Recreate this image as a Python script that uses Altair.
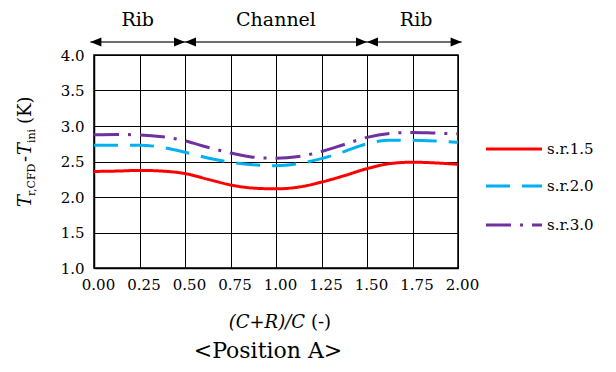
import altair as alt
import pandas as pd

# ---- data ----
x_vals = [0.0, 0.125, 0.25, 0.375, 0.5, 0.625, 0.75, 0.875, 1.0,
          1.125, 1.25, 1.375, 1.5, 1.625, 1.75, 1.875, 2.0]
sr15 = [2.36, 2.365, 2.375, 2.365, 2.33, 2.25, 2.17, 2.125, 2.115,
        2.14, 2.21, 2.30, 2.40, 2.47, 2.49, 2.48, 2.46]
sr20 = [2.73, 2.73, 2.73, 2.70, 2.63, 2.55, 2.49, 2.455, 2.44,
        2.47, 2.54, 2.64, 2.75, 2.80, 2.80, 2.79, 2.77]
sr30 = [2.875, 2.88, 2.875, 2.85, 2.79, 2.70, 2.62, 2.56, 2.545,
        2.57, 2.64, 2.74, 2.84, 2.895, 2.91, 2.90, 2.89]
series_names = ["s.r.1.5", "s.r.2.0", "s.r.3.0"]
x_ticks = [0, 0.25, 0.5, 0.75, 1.0, 1.25, 1.5, 1.75, 2.0]
y_ticks = [1.0, 1.5, 2.0, 2.5, 3.0, 3.5, 4.0]
region_labels = ["Rib", "Channel", "Rib"]
region_centers = [0.24, 1.0, 1.77]
region_starts = [-0.02, 0.5, 1.5]
region_ends = [0.5, 1.5, 2.02]

colors = ["#FF0000", "#00B0F0", "#7030A0"]
dashes = [[1, 0], [24, 12], [25, 9, 3, 9]]
FONT = "DejaVu Serif"

rows = []
for name, ys in zip(series_names, [sr15, sr20, sr30]):
    for xv, yv in zip(x_vals, ys):
        rows.append({"x": xv, "y": yv, "series": name})
df = pd.DataFrame(rows)

xscale = alt.Scale(domain=[0, 2], nice=False, zero=False)
yscale = alt.Scale(domain=[1, 4], nice=False, zero=False)

lines = alt.Chart(df).mark_line(strokeWidth=3, interpolate="monotone").encode(
    x=alt.X("x:Q", scale=xscale,
            axis=alt.Axis(values=x_ticks, format=".2f", title=None, grid=True,
                          labelOffset=4, labelPadding=9, labelOverlap=False,
                          labelFlush=False)),
    y=alt.Y("y:Q", scale=yscale,
            axis=alt.Axis(values=y_ticks, format=".1f", title=None, grid=True,
                          labelPadding=10, labelOverlap=False)),
    color=alt.Color("series:N",
                    scale=alt.Scale(domain=series_names, range=colors),
                    legend=None),
    strokeDash=alt.StrokeDash("series:N",
                              scale=alt.Scale(domain=series_names, range=dashes),
                              legend=None),
)

# legend (drawn as guide marks)
legend_rows_y = [94, 131, 170]
legend_layers = []
for name, col, dash, ly in zip(series_names, colors, dashes, legend_rows_y):
    legend_layers.append(
        alt.Chart(pd.DataFrame({"t": [name]})).mark_rule(
            color=col, strokeWidth=3, strokeDash=dash).encode(
            x=alt.value(392), x2=alt.value(448), y=alt.value(ly)))
    legend_layers.append(
        alt.Chart(pd.DataFrame({"t": [name]})).mark_text(
            font=FONT, fontSize=15, color="black", align="left",
            baseline="middle").encode(
            x=alt.value(453), y=alt.value(ly), text="t:N"))

# region arrows
seg_df = pd.DataFrame({"x": region_starts, "x2": region_ends})
arrow_lines = alt.Chart(seg_df).mark_rule(color="#404040", strokeWidth=1.5).encode(
    x="x:Q", x2="x2:Q", y=alt.value(-13))

right_heads = alt.Chart(pd.DataFrame({"x": region_ends})).mark_point(
    shape="M1,0L-1,-0.8L-1,0.8Z", filled=True, color="black", opacity=1,
    size=121, xOffset=-5.5).encode(x="x:Q", y=alt.value(-13))
left_heads = alt.Chart(pd.DataFrame({"x": region_starts})).mark_point(
    shape="M-1,0L1,-0.8L1,0.8Z", filled=True, color="black", opacity=1,
    size=121, xOffset=5.5).encode(x="x:Q", y=alt.value(-13))

region_text = alt.Chart(pd.DataFrame({"x": region_centers, "t": region_labels})).mark_text(
    font=FONT, fontSize=19, color="black", baseline="alphabetic", align="center"
).encode(x="x:Q", y=alt.value(-29), text="t:N")


def piece(text, x, y, size, italic=False, angle=0, align="left"):
    kw = dict(font=FONT, fontSize=size, color="black", baseline="alphabetic",
              align=align, angle=angle)
    if italic:
        kw["fontStyle"] = "italic"
    return alt.Chart(pd.DataFrame({"t": [text]})).mark_text(**kw).encode(
        x=alt.value(x), y=alt.value(y), text="t:N")


# y-axis title pieces (rotated)
ytitle = [
    piece("T", -63, 152, 18, italic=True, angle=270),
    piece("r,CFD", -59, 141, 11, angle=270),
    piece("-", -63, 107, 18, angle=270),
    piece("T", -63, 100, 18, italic=True, angle=270),
    piece("ini", -59, 88, 11, angle=270),
    piece("(K)", -63, 69, 18, angle=270),
]
# x-axis title pieces
xtitle = [
    piece("(C+R)/C", 211, 273, 18, italic=True, align="right"),
    piece("(-)", 217, 273, 18),
    piece("<Position A>", 174, 303, 22, align="center"),
]

chart = alt.layer(lines, arrow_lines, right_heads, left_heads, region_text,
                  *legend_layers, *ytitle, *xtitle).properties(
    width=364, height=213,
    padding={"left": 86, "top": 47, "right": 150, "bottom": 96},
    autosize=alt.AutoSizeParams(type="none"),
).configure_axis(
    domainColor="black", domainWidth=1.5, gridColor="black", gridWidth=1,
    gridOpacity=1, tickSize=0, labelFont=FONT, labelFontSize=15,
    labelColor="black",
).configure_view(stroke="black", strokeWidth=1.5)

chart.save("out.html", embed_options={"renderer": "svg", "actions": False})
